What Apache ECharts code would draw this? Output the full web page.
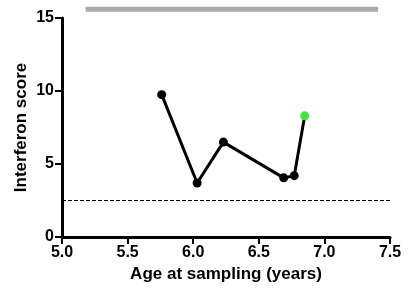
<!DOCTYPE html>
<html>
<head>
<meta charset="utf-8">
<script src="https://cdn.jsdelivr.net/npm/echarts@6/dist/echarts.min.js"></script>
<style>
html,body{margin:0;padding:0;background:#fff;}
#chart{width:409px;height:290px;}
</style>
</head>
<body>
<div id="chart"></div>
<script>
var ages = [5.76, 6.03, 6.23, 6.69, 6.77, 6.85];   // 年龄
var scores = [9.75, 3.7, 6.5, 4.05, 4.2, 8.3];     // 干扰素评分
var threshold = 2.5;
var barRange = [5.18, 7.41];
var barLevel = 15.6;

var myChart = echarts.init(document.getElementById('chart'));
var pts = [];
for (var i = 0; i < ages.length; i++) {
	pts.push([ages[i], scores[i]]);
}
var font = '"Liberation Sans", Arial, sans-serif';

myChart.setOption({
	animation: false,
	grid: {
		left: 62,
		right: 19,
		top: 18,
		bottom: 53
	},
	xAxis: {
		type: 'value',
		min: 5,
		max: 7.5,
		interval: 0.5,
		name: 'Age at sampling (years)',
		nameLocation: 'middle',
		nameGap: 28,
		nameTextStyle: {fontSize: 17, fontWeight: 'bold', color: '#000', fontFamily: font},
		axisLine: {show: true, lineStyle: {color: '#000', width: 3}},
		axisTick: {show: true, inside: false, length: 7, lineStyle: {color: '#000', width: 2}},
		axisLabel: {
			fontSize: 16, fontWeight: 'bold', color: '#000', fontFamily: font, margin: 8,
			formatter: function (v) { return v.toFixed(1); }
		},
		splitLine: {show: false}
	},
	yAxis: {
		type: 'value',
		min: 0,
		max: 15,
		interval: 5,
		name: 'Interferon score',
		nameLocation: 'middle',
		nameGap: 32,
		nameMoveOverlap: false,
		nameTextStyle: {fontSize: 17, fontWeight: 'bold', color: '#000', fontFamily: font},
		axisLine: {show: true, lineStyle: {color: '#000', width: 3}},
		axisTick: {show: true, inside: false, length: 7, lineStyle: {color: '#000', width: 2}},
		axisLabel: {fontSize: 16, fontWeight: 'bold', color: '#000', fontFamily: font, margin: 8},
		splitLine: {show: false}
	},
	series: [
		{
			type: 'line',
			data: [[5, threshold], [7.5, threshold]],
			symbol: 'none',
			lineStyle: {color: '#000', width: 1, type: [4, 2]},
			silent: true
		},
		{
			type: 'line',
			data: [[barRange[0], barLevel], [barRange[1], barLevel]],
			symbol: 'none',
			clip: false,
			lineStyle: {color: '#aaaaaa', width: 5},
			silent: true
		},
		{
			type: 'line',
			data: pts,
			symbol: 'circle',
			symbolSize: 9,
			itemStyle: {
				color: function (p) { return p.dataIndex === pts.length - 1 ? '#3ee83a' : '#000'; }
			},
			lineStyle: {color: '#000', width: 3}
		}
	]
});
</script>
</body>
</html>
